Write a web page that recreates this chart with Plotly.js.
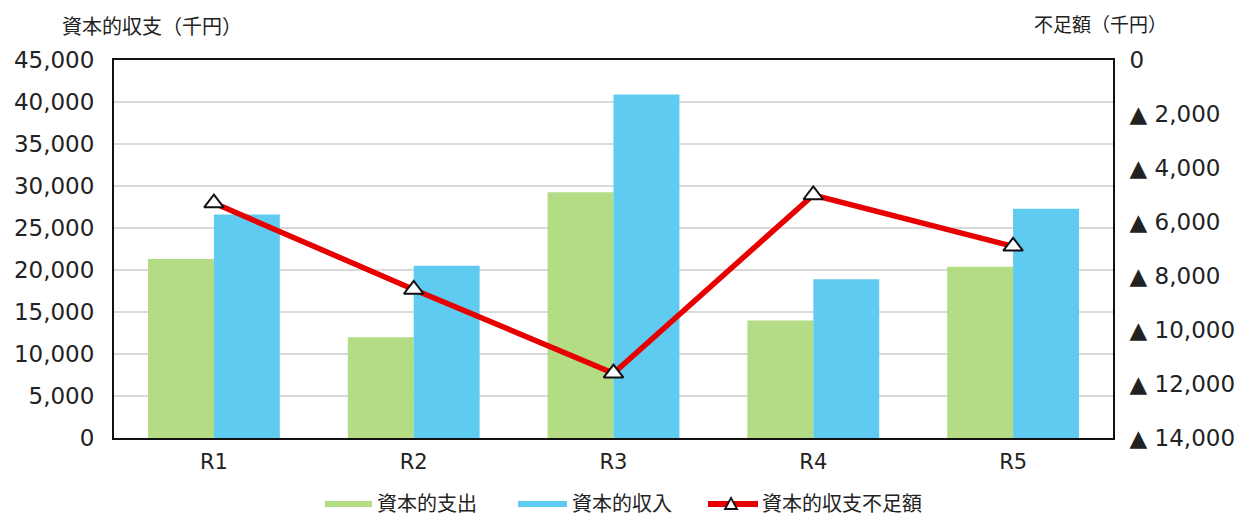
<!DOCTYPE html>
<html>
<head>
<meta charset="utf-8">
<script src="https://cdn.plot.ly/plotly-3.0.1.min.js"></script>
<style>html,body{margin:0;padding:0;background:#fff;}#chart{width:1253px;height:518px;}</style>
</head>
<body>
<div id="chart"></div>
<script>
const categories = ["R1", "R2", "R3", "R4", "R5"];
const capitalExpenditure = [21300, 12000, 29250, 14000, 20400];
const capitalIncome = [26600, 20500, 40900, 18900, 27300];
const shortfall = [5300, 8500, 11600, 5000, 6900];
const leftTickVals = [0, 5000, 10000, 15000, 20000, 25000, 30000, 35000, 40000, 45000];
const leftTickText = ["0", "5,000", "10,000", "15,000", "20,000", "25,000", "30,000", "35,000", "40,000", "45,000"];
const rightTickVals = [0, 2000, 4000, 6000, 8000, 10000, 12000, 14000];
const rightTickText = ["0", "▲ 2,000", "▲ 4,000", "▲ 6,000", "▲ 8,000", "▲ 10,000", "▲ 12,000", "▲ 14,000"];
const seriesNames = ["資本的支出", "資本的収入", "資本的収支不足額"];
const leftTitle = "資本的収支（千円）";
const rightTitle = "不足額（千円）";

const FONT = "'DejaVu Sans', 'Noto Sans CJK JP', sans-serif";
const CJK = "'Noto Sans CJK JP', sans-serif";
const TXT = "#222222";
const GREEN = "#b3dc84", BLUE = "#5fcbf1", RED = "#e80000";

// plot area in pixels
const PL = 114, PR = 1113, PT = 60, PB = 438;
const px = v => (v - PL) / (PR - PL);
const py = v => (PB - v) / (PB - PT);

const traces = [
  {type: "bar", name: seriesNames[0], x: categories, y: capitalExpenditure, marker: {color: GREEN}, yaxis: "y"},
  {type: "bar", name: seriesNames[1], x: categories, y: capitalIncome, marker: {color: BLUE}, yaxis: "y"},
  {
    type: "scatter", mode: "lines+markers", name: seriesNames[2], x: categories, y: shortfall, yaxis: "y2",
    line: {color: RED, width: 5.5},
    marker: {symbol: "triangle-up", size: 17, color: "#ffffff", line: {color: "#111111", width: 2}}
  }
];

const legendY = 504;
const shapes = [
  {type: "rect", xref: "paper", yref: "paper", x0: px(325), x1: px(372), y0: py(legendY - 3), y1: py(legendY + 3),
   fillcolor: GREEN, line: {width: 0}},
  {type: "rect", xref: "paper", yref: "paper", x0: px(518), x1: px(567), y0: py(legendY - 3), y1: py(legendY + 3),
   fillcolor: BLUE, line: {width: 0}},
  {type: "line", xref: "paper", yref: "paper", x0: px(708), x1: px(758), y0: py(legendY), y1: py(legendY),
   line: {color: RED, width: 6}},
  {type: "path", xref: "paper", yref: "paper", xsizemode: "pixel", ysizemode: "pixel",
   xanchor: px(731), yanchor: py(legendY), path: "M-6,-5 L6,-5 L0,6 Z",
   fillcolor: "#ffffff", line: {color: "#111111", width: 1.8}}
];

const legendText = (text, x) => ({
  text: text, xref: "paper", yref: "paper", x: px(x), y: py(legendY - 1), xanchor: "left", yanchor: "middle",
  showarrow: false, borderpad: 0, font: {size: 20, family: CJK, color: TXT}
});

const annotations = [
  {text: leftTitle, xref: "paper", yref: "paper", x: px(152), y: py(26), xanchor: "center", yanchor: "middle",
   showarrow: false, font: {size: 20, family: CJK, color: TXT}},
  {text: rightTitle, xref: "paper", yref: "paper", x: px(1100), y: py(24), xanchor: "center", yanchor: "middle",
   showarrow: false, font: {size: 19, family: CJK, color: TXT}},
  legendText(seriesNames[0], 376),
  legendText(seriesNames[1], 571),
  legendText(seriesNames[2], 761)
];

const layout = {
  width: 1253, height: 518,
  margin: {l: PL, r: 1253 - PR, t: PT, b: 518 - PB, autoexpand: false},
  paper_bgcolor: "#ffffff", plot_bgcolor: "#ffffff",
  font: {family: FONT, color: TXT},
  barmode: "group", bargap: 0.34, bargroupgap: 0,
  showlegend: false,
  xaxis: {
    type: "category",
    showline: true, linecolor: "#111111", linewidth: 2, mirror: true,
    showgrid: false, ticks: "", tickfont: {size: 21, family: FONT, color: TXT},
    ticklabelstandoff: 4
  },
  yaxis: {
    range: [0, 45000], tickvals: leftTickVals, ticktext: leftTickText,
    showline: true, linecolor: "#111111", linewidth: 2,
    showgrid: true, gridcolor: "#d9d9d9", gridwidth: 2,
    zeroline: false, ticks: "", tickfont: {size: 23, family: FONT, color: TXT},
    ticklabelstandoff: 13
  },
  yaxis2: {
    overlaying: "y", side: "right",
    range: [14000, 0], tickvals: rightTickVals, ticktext: rightTickText,
    showline: true, linecolor: "#111111", linewidth: 2,
    showgrid: false, zeroline: false, ticks: "",
    tickfont: {size: 23, family: FONT, color: TXT},
    ticklabelstandoff: 10
  },
  shapes: shapes,
  annotations: annotations
};

Plotly.newPlot("chart", traces, layout, {displayModeBar: false, staticPlot: true});
</script>
</body>
</html>
